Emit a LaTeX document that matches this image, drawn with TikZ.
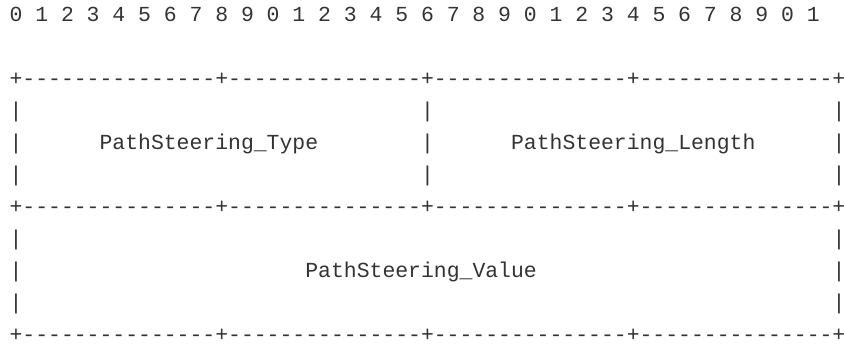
\documentclass[tikz,border=0pt]{standalone}
\usepackage{fontspec}
\newfontfamily\asciifont{Liberation Mono}
\definecolor{asciiink}{RGB}{51,51,51}
\begin{document}
\begin{tikzpicture}[x=1pt,y=1pt]
% the look of one character cell
\tikzset{ascii/.style={anchor=base west,inner sep=0pt,outer sep=0pt,text=asciiink,
  font=\asciifont\fontsize{21.43}{32}\selectfont}}
\def\cw{12.86}   % width of one column
\def\lh{32}      % height of one line
\def\xo{9.57}    % left edge of column 0
\def\yo{-21.5}   % baseline of line 0
\useasboundingbox (0,0) rectangle (844,-345);

% the bit numbers
\node[ascii] (bits) at (\xo,\yo) {0 1 2 3 4 5 6 7 8 9 0 1 2 3 4 5 6 7 8 9 0 1 2 3 4 5 6 7 8 9 0 1};

% the borders
\foreach \r/\l in {top/2,mid/6,bot/10} {
\node[ascii] (\r bar) at (\xo,{\yo-\l*\lh}) {+---------------+---------------+---------------+---------------+};
}

% the sides -- first word
\foreach \l in {3,4,5} {
\foreach \c in {0,32,64} {
\node[ascii] (pipe-\l-\c) at ({\xo+\c*\cw},{\yo-\l*\lh}) {|};
}
}
% the sides -- second word
\foreach \l in {7,8,9} {
\foreach \c in {0,64} {
\node[ascii] (pipe-\l-\c) at ({\xo+\c*\cw},{\yo-\l*\lh}) {|};
}
}

% the field names
\node[ascii] (typelbl) at ({\xo+7*\cw},{\yo-4*\lh}) {PathSteering\_Type};
\node[ascii] (lenlbl) at ({\xo+39*\cw},{\yo-4*\lh}) {PathSteering\_Length};
\node[ascii] (vallbl) at ({\xo+23*\cw},{\yo-8*\lh}) {PathSteering\_Value};
\end{tikzpicture}
\end{document}
